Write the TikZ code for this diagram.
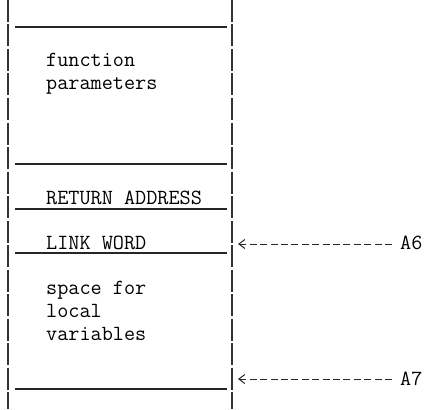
\documentclass[tikz,border=0pt]{standalone}
\usetikzlibrary{arrows.meta}
\begin{document}
\begin{tikzpicture}[x=1pt,y=1pt,
  rule/.style={line width=1.1pt, draw=black!85},
  side/.style={line width=1.1pt, draw=black!80, dash pattern=on 22pt off 2.5pt},
  txt/.style={font=\fontsize{21.6}{23}\selectfont\ttfamily, text=black, inner sep=0pt, anchor=base west, align=left},
  ptr/.style={line width=1pt, draw=black!85, dash pattern=on 7pt off 3.4pt, -{Straight Barb[length=6pt,width=9pt,line width=1pt]}, shorten >=0pt}
]
\useasboundingbox (0,0) rectangle (430,-409);
% side walls
\draw[side] (8,0) -- (8,-409);
\draw[side] (232,0) -- (232,-409);
% horizontal rules
\foreach \yy in {27,164,209,253,389} \draw[rule] (15,-\yy) -- (227,-\yy);
% texts (base = last line's baseline)
\node[txt] (fp) at (46,-90) {function\\parameters};
\node[txt] (ra) at (46,-204) {RETURN ADDRESS};
\node[txt] (lw) at (46,-249) {LINK WORD};
\node[txt] (lv) at (46,-340) {space for\\local\\variables};
% pointers
\node[txt] (a6) at (400,-249) {A6};
\node[txt] (a7) at (400,-385) {A7};
\coordinate (p6) at (238,-244);
\coordinate (p7) at (238,-379);
\draw[ptr] ([xshift=-8pt]a6.west |- p6) -- (p6);
\draw[ptr] ([xshift=-8pt]a7.west |- p7) -- (p7);
\end{tikzpicture}
\end{document}
